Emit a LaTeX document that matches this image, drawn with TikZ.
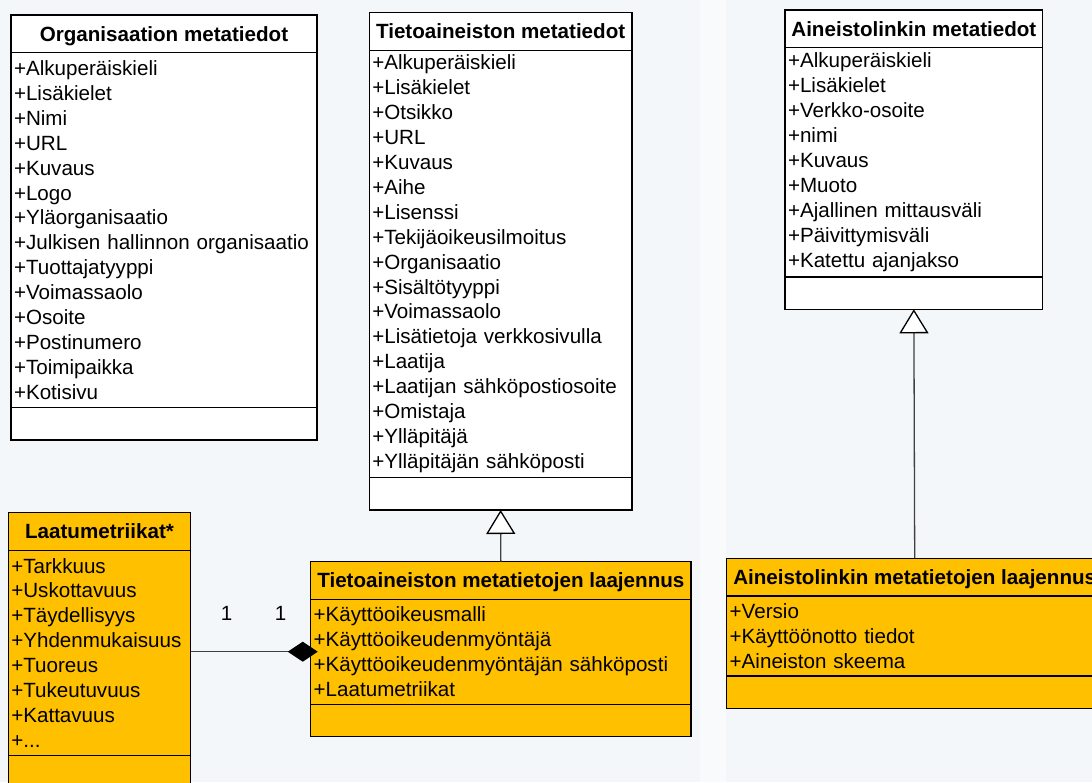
\documentclass[tikz,border=0pt]{standalone}
\usepackage{fontspec}
\setmainfont{Liberation Sans}
\usepackage{xcolor}
\usepackage{tikz}
\usetikzlibrary{positioning}
\usetikzlibrary{arrows.meta}
\definecolor{laajennus}{HTML}{FFC000}
\definecolor{tausta}{HTML}{F4F7FA}
\definecolor{viiva}{HTML}{404040}

\begin{document}
\begin{tikzpicture}[x=1pt, y=-1pt,
    font=\fontsize{20.6}{24.9}\selectfont,
    umlbox/.style={draw=black, line width=1.4pt, outer sep=0pt, inner ysep=0pt},
    luokka/.style={umlbox, minimum height=37.5pt, text height=14.75pt, text depth=0pt,
      font=\fontsize{20.6}{24.9}\selectfont\bfseries, anchor=north west},
    piirteet/.style={umlbox, align=left, inner xsep=3pt, anchor=north},
    metodit/.style={umlbox, minimum height=32.5pt, anchor=north},
    yhteys/.style={draw=viiva, line width=1.3pt},
    perii/.style={yhteys, -{Triangle[open, fill=white, color=black, length=24pt, width=29pt]}},
    kooste/.style={yhteys, -{Diamond[fill=black, color=black, length=30pt, width=20pt]}, shorten >=-7pt},
    lukum/.style={text height=14.75pt, text depth=0pt, inner sep=0pt}
  ]
  \useasboundingbox (0,0) rectangle (1092,782);
  \clip (0,0) rectangle (1092,782);
  \fill[tausta] (0,0) rectangle (1092,782);
  \fill[white, opacity=0.45] (700,0) rectangle (726,782);

  % Organisaatio
  \node[luokka, fill=white, minimum width=306pt] (org-head) at (11,15) {Organisaation metatiedot};
  \node[piirteet, fill=white, text width=300pt, minimum height=355pt, below=0pt of org-head] (org-attr)
    {+Alkuperäiskieli\\+Lisäkielet\\+Nimi\\+URL\\+Kuvaus\\+Logo\\+Yläorganisaatio\\
     +Julkisen hallinnon organisaatio\\+Tuottajatyyppi\\+Voimassaolo\\+Osoite\\+Postinumero\\
     +Toimipaikka\\+Kotisivu};
  \node[metodit, fill=white, minimum width=306pt, below=0pt of org-attr] (org-ops) {};

  % Tietoaineisto
  \node[luokka, fill=white, minimum width=262.7pt] (tieto-head) at (369.3,12.7) {Tietoaineiston metatiedot};
  \node[piirteet, fill=white, text width=256.7pt, minimum height=427.3pt, below=0pt of tieto-head] (tieto-attr)
    {+Alkuperäiskieli\\+Lisäkielet\\+Otsikko\\+URL\\+Kuvaus\\+Aihe\\+Lisenssi\\
     +Tekijäoikeusilmoitus\\+Organisaatio\\+Sisältötyyppi\\+Voimassaolo\\
     +Lisätietoja verkkosivulla\\+Laatija\\+Laatijan sähköpostiosoite\\+Omistaja\\
     +Ylläpitäjä\\+Ylläpitäjän sähköposti};
  \node[metodit, fill=white, minimum width=262.7pt, below=0pt of tieto-attr] (tieto-ops) {};

  % Aineistolinkki
  \node[luokka, fill=white, minimum width=257.7pt] (linkki-head) at (785,10) {Aineistolinkin metatiedot};
  \node[piirteet, fill=white, text width=251.7pt, minimum height=229.3pt, below=0pt of linkki-head] (linkki-attr)
    {+Alkuperäiskieli\\+Lisäkielet\\+Verkko-osoite\\+nimi\\+Kuvaus\\+Muoto\\
     +Ajallinen mittausväli\\+Päivittymisväli\\+Katettu ajanjakso};
  \node[metodit, fill=white, minimum width=257.7pt, below=0pt of linkki-attr] (linkki-ops) {};

  % Laatumetriikat
  \node[luokka, fill=laajennus, minimum width=182.4pt] (laatu-head) at (8.3,512.7) {Laatumetriikat*};
  \node[piirteet, fill=laajennus, text width=176.4pt, minimum height=205pt, below=0pt of laatu-head] (laatu-attr)
    {+Tarkkuus\\+Uskottavuus\\+Täydellisyys\\+Yhdenmukaisuus\\+Tuoreus\\+Tukeutuvuus\\
     +Kattavuus\\+...};
  \node[metodit, fill=laajennus, minimum width=182.4pt, minimum height=60pt, below=0pt of laatu-attr] (laatu-ops) {};

  % Tietoaineiston laajennus
  \node[luokka, fill=laajennus, minimum width=380.3pt] (tlaaj-head) at (310.7,561.7) {Tietoaineiston metatietojen laajennus};
  \node[piirteet, fill=laajennus, text width=374.3pt, minimum height=105pt, below=0pt of tlaaj-head] (tlaaj-attr)
    {+Käyttöoikeusmalli\\+Käyttöoikeudenmyöntäjä\\+Käyttöoikeudenmyöntäjän sähköposti\\
     +Laatumetriikat};
  \node[metodit, fill=laajennus, minimum width=380.3pt, below=0pt of tlaaj-attr] (tlaaj-ops) {};

  % Aineistolinkin laajennus
  \node[luokka, fill=laajennus, minimum width=376pt] (alaaj-head) at (726.7,558.3) {Aineistolinkin metatietojen laajennus};
  \node[piirteet, fill=laajennus, text width=370pt, minimum height=80pt, below=0pt of alaaj-head] (alaaj-attr)
    {+Versio\\+Käyttöönotto tiedot\\+Aineiston skeema};
  \node[metodit, fill=laajennus, minimum width=376pt, below=0pt of alaaj-attr] (alaaj-ops) {};

  \draw[perii] (tlaaj-head.north) -- (tieto-ops.south);
  \draw[perii] (alaaj-head.north) -- (linkki-ops.south);
  \draw[kooste] (laatu-attr.east |- tlaaj-attr.west) --
    node[lukum, pos=0.3, yshift=39pt] (laatu-kerta) {1}
    node[lukum, pos=0.75, yshift=39pt] (tlaaj-kerta) {1} (tlaaj-attr.west);
\end{tikzpicture}
\end{document}
